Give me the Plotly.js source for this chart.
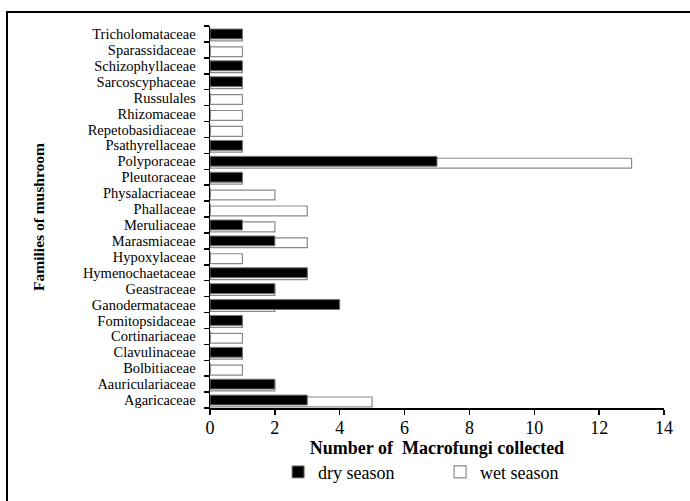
<!DOCTYPE html>
<html>
<head>
<meta charset="utf-8">
<script src="https://cdn.plot.ly/plotly-3.0.1.min.js"></script>
<style>
  html, body { margin: 0; padding: 0; background: #fff; }
  #wrap { position: relative; width: 690px; height: 501px; overflow: hidden; }
  #chart { position: absolute; left: 0; top: 0; width: 690px; height: 501px; }
  #frame { position: absolute; left: 6px; top: 11px; width: 720px; height: 530px;
           border: 2px solid #000; pointer-events: none; box-sizing: border-box; }
</style>
</head>
<body>
<div id="wrap">
  <div id="chart"></div>
  <div id="frame"></div>
</div>
<script>
// Families (bottom to top as drawn)
const families = [
  "Agaricaceae", "Aauriculariaceae", "Bolbitiaceae", "Clavulinaceae",
  "Cortinariaceae", "Fomitopsidaceae", "Ganodermataceae", "Geastraceae",
  "Hymenochaetaceae", "Hypoxylaceae", "Marasmiaceae", "Meruliaceae",
  "Phallaceae", "Physalacriaceae", "Pleutoraceae", "Polyporaceae",
  "Psathyrellaceae", "Repetobasidiaceae", "Rhizomaceae", "Russulales",
  "Sarcoscyphaceae", "Schizophyllaceae", "Sparassidaceae", "Tricholomataceae"
];
const drySeason = [3, 2, 0, 1, 0, 1, 4, 2, 3, 0, 2, 1, 0, 0, 1, 7, 1, 0, 0, 0, 1, 1, 0, 1];
const wetSeason = [5, 2, 1, 1, 1, 1, 2, 2, 3, 1, 3, 2, 3, 2, 1, 13, 1, 1, 1, 1, 1, 1, 1, 1];
const xTicks = [0, 2, 4, 6, 8, 10, 12, 14];

const serif = "Liberation Serif, Times New Roman, serif";

const traces = [
  {
    type: "bar", orientation: "h", name: "wet season",
    y: families, x: wetSeason,
    width: 0.62, offset: -0.43,
    marker: { color: "#ffffff", line: { color: "#8a8a8a", width: 1.2 } },
    legendrank: 2
  },
  {
    type: "bar", orientation: "h", name: "dry season",
    y: families, x: drySeason,
    width: 0.62, offset: -0.31,
    marker: { color: "#000000", line: { color: "#777777", width: 1 } },
    legendrank: 1
  }
];

const layout = {
  width: 690, height: 501,
  margin: { l: 210, r: 26, t: 26, b: 92 },
  paper_bgcolor: "#ffffff", plot_bgcolor: "#ffffff",
  barmode: "overlay",
  showlegend: true,
  font: { family: serif, color: "#000", size: 14 },
  legend: {
    orientation: "h", x: 0.15, xanchor: "left", y: -0.165, yanchor: "middle",
    font: { family: serif, size: 18, color: "#000" },
    entrywidth: 117, entrywidthmode: "pixels",
    bgcolor: "rgba(0,0,0,0)"
  },
  xaxis: {
    range: [0, 14], tickvals: xTicks, ticktext: xTicks.map(String),
    showgrid: false, zeroline: false,
    showline: true, linecolor: "#000", linewidth: 1.5,
    ticks: "outside", ticklen: 5, tickcolor: "#000", tickwidth: 1.5,
    ticklabelstandoff: -2,
    tickfont: { family: serif, size: 18, color: "#000" },
    title: { text: "<b>Number of  Macrofungi collected</b>",
             font: { family: serif, size: 18, color: "#000" }, standoff: 2 },
    fixedrange: true
  },
  yaxis: {
    type: "category", categoryorder: "array", categoryarray: families,
    range: [-0.5, families.length - 0.5],
    tickmode: "linear", tick0: 0, dtick: 1,
    showgrid: false, zeroline: false,
    showline: true, linecolor: "#000", linewidth: 1.5,
    ticks: "outside", tickson: "boundaries", ticklen: 5, tickcolor: "#000", tickwidth: 1.5,
    ticklabelstandoff: 10,
    tickfont: { family: serif, size: 14.5, color: "#000" },
    title: { text: "<b>Families of mushroom</b>",
             font: { family: serif, size: 15.5, color: "#000" }, standoff: 34 },
    fixedrange: true
  }
};

Plotly.newPlot("chart", traces, layout, { displayModeBar: false, staticPlot: true });
</script>
</body>
</html>
